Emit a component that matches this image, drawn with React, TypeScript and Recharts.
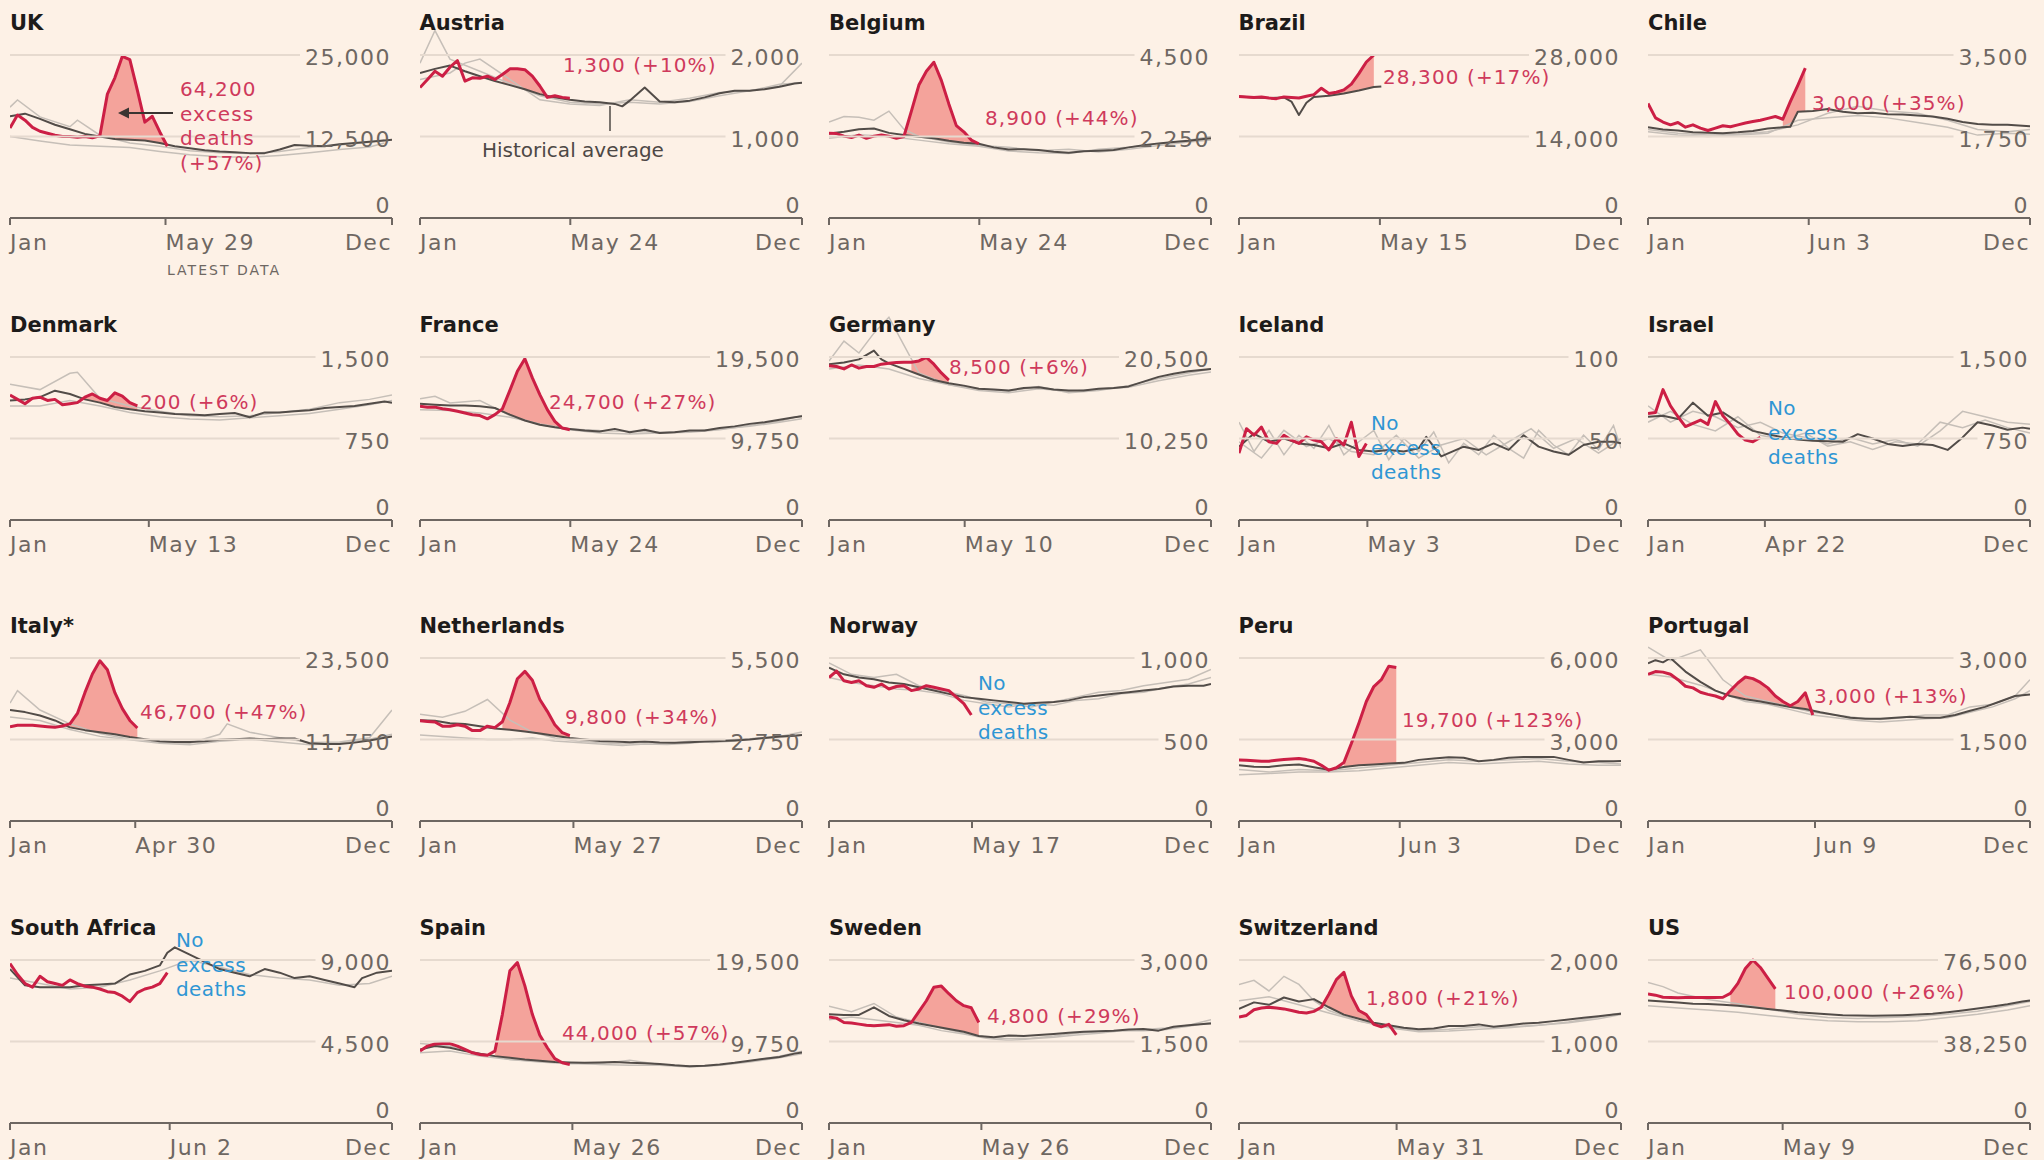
import React from 'react';
import { ComposedChart, Line, Area, XAxis, YAxis } from 'recharts';

// ---------- DATA ----------
const names = ['UK', 'Austria', 'Belgium', 'Brazil', 'Chile', 'Denmark', 'France', 'Germany', 'Iceland', 'Israel',
  'Italy*', 'Netherlands', 'Norway', 'Peru', 'Portugal', 'South Africa', 'Spain', 'Sweden', 'Switzerland', 'US'];
const topTicks = [25000, 2000, 4500, 28000, 3500, 1500, 19500, 20500, 100, 1500, 23500, 5500, 1000, 6000, 3000, 9000, 19500, 3000, 2000, 76500];
const midTicks = [12500, 1000, 2250, 14000, 1750, 750, 9750, 10250, 50, 750, 11750, 2750, 500, 3000, 1500, 4500, 9750, 1500, 1000, 38250];
const latestLabels = ['May 29', 'May 24', 'May 24', 'May 15', 'Jun 3', 'May 13', 'May 24', 'May 10', 'May 3', 'Apr 22',
  'Apr 30', 'May 27', 'May 17', 'Jun 3', 'Jun 9', 'Jun 2', 'May 26', 'May 26', 'May 31', 'May 9'];
const latestDays = [150, 145, 145, 136, 155, 134, 145, 131, 124, 113, 121, 148, 138, 155, 161, 154, 147, 147, 152, 130];
// first week of the 2020 excess period (0 = no excess deaths)
const excessFrom = [13, 12, 11, 14, 19, 11, 11, 12, 0, 0, 9, 12, 0, 15, 11, 0, 11, 12, 12, 12];
const noteTexts = [
  ['64,200', 'excess', 'deaths', '(+57%)'], ['1,300 (+10%)'], ['8,900 (+44%)'], ['28,300 (+17%)'], ['3,000 (+35%)'],
  ['200 (+6%)'], ['24,700 (+27%)'], ['8,500 (+6%)'], ['No', 'excess', 'deaths'], ['No', 'excess', 'deaths'],
  ['46,700 (+47%)'], ['9,800 (+34%)'], ['No', 'excess', 'deaths'], ['19,700 (+123%)'], ['3,000 (+13%)'],
  ['No', 'excess', 'deaths'], ['44,000 (+57%)'], ['4,800 (+29%)'], ['1,800 (+21%)'], ['100,000 (+26%)'],
];

// 2020 weekly deaths (week 1 onwards)
const ukRed = [13800, 15800, 15000, 13900, 13300, 13000, 12700, 12500, 12500, 12400, 12500, 12300, 12600, 19000, 21500, 24800, 24300, 19600, 14700, 15600, 13200, 11000];
const atRed = [1600, 1700, 1800, 1740, 1850, 1930, 1680, 1720, 1714, 1740, 1700, 1760, 1830, 1830, 1820, 1740, 1620, 1480, 1500, 1480, 1470];
const beRed = [2340, 2330, 2260, 2220, 2290, 2200, 2260, 2290, 2260, 2200, 2250, 2950, 3670, 4050, 4300, 3800, 3150, 2550, 2380, 2150, 2050];
const brRed = [20850, 20800, 20700, 20800, 20600, 20500, 20800, 20700, 20600, 20900, 21200, 22300, 21400, 21600, 22000, 23000, 24800, 26800, 28000];
const clRed = [2460, 2150, 2060, 2000, 2050, 1950, 2000, 1930, 1880, 1930, 1980, 1960, 2000, 2040, 2070, 2100, 2140, 2180, 2120, 2500, 2850, 3220];
const dkRed = [1150, 1110, 1070, 1120, 1130, 1100, 1110, 1060, 1070, 1080, 1130, 1160, 1120, 1100, 1170, 1140, 1080, 1050];
const frRed = [13600, 13500, 13500, 13300, 13200, 13000, 12800, 12600, 12500, 12100, 12600, 13300, 15500, 17800, 19300, 17000, 15000, 13200, 11800, 11000, 10800];
const deRed = [19400, 19300, 19000, 19500, 19100, 19300, 19300, 19600, 19700, 19800, 19850, 19850, 20000, 20450, 19600, 18500, 17600];
const isRed = [41, 56, 52, 57, 48, 47, 52, 49, 47, 51, 49, 48, 43, 50, 46, 60, 39, 47];
const ilRed = [980, 990, 1200, 1050, 950, 860, 890, 920, 880, 1090, 960, 880, 790, 735, 720, 760];
const itRed = [13600, 13800, 13800, 13800, 13700, 13600, 13500, 13700, 14000, 15500, 18500, 21200, 23100, 21800, 18500, 16200, 14500, 13400];
const nlRed = [3380, 3360, 3340, 3200, 3200, 3250, 3200, 3050, 3050, 3200, 3150, 3350, 4000, 4800, 5050, 4750, 4100, 3700, 3250, 2980, 2880];
const noRed = [880, 920, 860, 850, 860, 830, 820, 840, 810, 825, 830, 800, 810, 830, 820, 810, 800, 760, 720, 650];
const peRed = [2250, 2240, 2220, 2200, 2200, 2240, 2260, 2280, 2300, 2260, 2200, 2050, 1870, 1960, 2150, 2850, 3600, 4400, 4950, 5200, 5700, 5650];
const ptRed = [2700, 2750, 2740, 2700, 2600, 2480, 2450, 2370, 2330, 2300, 2250, 2400, 2540, 2650, 2620, 2550, 2450, 2300, 2200, 2120, 2200, 2360, 1950];
const zaRed = [8800, 8200, 7700, 7500, 8100, 7800, 7700, 7600, 7900, 7700, 7550, 7500, 7400, 7250, 7200, 7000, 6700, 7200, 7400, 7500, 7700, 8300];
const esRed = [8600, 9200, 9450, 9500, 9500, 9200, 8800, 8400, 8200, 8100, 8600, 13000, 18200, 19200, 16400, 13000, 10500, 9000, 7700, 7200, 7000];
const seRed = [1950, 1930, 1850, 1840, 1820, 1800, 1790, 1800, 1810, 1780, 1790, 1850, 2050, 2250, 2500, 2520, 2380, 2250, 2160, 2120, 1850];
const chRed = [1300, 1320, 1390, 1410, 1420, 1410, 1400, 1380, 1360, 1350, 1370, 1420, 1580, 1760, 1850, 1560, 1380, 1330, 1210, 1180, 1210, 1080];
const usRed = [60500, 60000, 59000, 58900, 58800, 58900, 58900, 58900, 58900, 58900, 59000, 60800, 65500, 72500, 76500, 73000, 68000, 63000];

// historical average [week, deaths]
const ukAvg = [[1, 15600], [3, 16000], [5, 15200], [7, 14300], [9, 13600], [11, 12900], [13, 12500], [15, 12100], [17, 12000], [19, 11900], [21, 11500], [23, 11000], [25, 10700], [27, 10400], [29, 10200], [31, 10100], [33, 9950], [35, 9950], [37, 10500], [39, 11200], [41, 11100], [43, 11000], [45, 11300], [47, 11500], [49, 11700], [51, 11900], [52, 12000]];
const atAvg = [[1, 1780], [3, 1830], [5, 1870], [7, 1800], [9, 1740], [11, 1680], [13, 1630], [15, 1580], [17, 1520], [19, 1480], [21, 1450], [23, 1430], [25, 1420], [27, 1400], [28, 1370], [29, 1440], [31, 1600], [33, 1430], [35, 1420], [37, 1440], [39, 1480], [41, 1530], [43, 1560], [45, 1560], [47, 1580], [49, 1610], [51, 1650], [52, 1660]];
const beAvg = [[1, 2330], [3, 2380], [5, 2450], [7, 2470], [9, 2350], [11, 2290], [13, 2240], [15, 2200], [17, 2130], [19, 2080], [21, 2050], [23, 1950], [25, 1890], [27, 1900], [29, 1880], [31, 1830], [33, 1800], [35, 1840], [37, 1860], [39, 1880], [41, 1950], [43, 2010], [45, 2060], [47, 2100], [49, 2130], [51, 2180], [52, 2200]];
const brAvg = [[1, 20850], [3, 20700], [5, 20600], [7, 20700], [8, 20000], [9, 17700], [10, 19800], [11, 20800], [13, 21000], [15, 21400], [17, 21900], [19, 22500], [20, 22600]];
const clAvg = [[1, 1950], [3, 1900], [5, 1880], [7, 1840], [9, 1830], [11, 1820], [13, 1840], [15, 1870], [17, 1920], [19, 1950], [20, 1960], [21, 2280], [23, 2300], [25, 2340], [27, 2280], [29, 2250], [31, 2260], [33, 2230], [35, 2220], [37, 2200], [39, 2180], [41, 2130], [43, 2060], [45, 2020], [47, 2000], [49, 2000], [51, 1980], [52, 1970]];
const dkAvg = [[1, 1100], [3, 1110], [5, 1130], [7, 1190], [9, 1160], [11, 1110], [13, 1080], [15, 1040], [17, 1020], [19, 1000], [21, 990], [23, 975], [25, 970], [27, 965], [29, 975], [31, 985], [33, 945], [35, 990], [37, 990], [39, 1000], [41, 1010], [43, 1030], [45, 1040], [47, 1050], [49, 1070], [51, 1090], [52, 1080]];
const frAvg = [[1, 13900], [3, 13800], [5, 13700], [7, 13700], [9, 13600], [11, 13400], [13, 12600], [15, 11900], [17, 11400], [19, 11100], [21, 10900], [23, 10700], [25, 10600], [27, 10900], [29, 10500], [31, 10800], [33, 10400], [35, 10500], [37, 10700], [39, 10700], [41, 11000], [43, 11200], [45, 11500], [47, 11700], [49, 12000], [51, 12300], [52, 12400]];
const deAvg = [[1, 19600], [3, 19800], [5, 20200], [7, 21300], [8, 20200], [9, 19700], [11, 19000], [13, 18300], [15, 17600], [17, 17200], [19, 16900], [21, 16500], [23, 16400], [25, 16300], [27, 16600], [29, 16700], [31, 16400], [33, 16300], [35, 16300], [37, 16500], [39, 16600], [41, 16800], [43, 17400], [45, 18000], [47, 18400], [49, 18700], [51, 18900], [52, 19000]];
const isAvg = [[1, 45], [3, 53], [5, 48], [7, 50], [9, 47], [11, 46], [13, 44], [15, 47], [17, 43], [19, 42], [21, 43], [23, 42], [25, 44], [26, 51], [27, 45], [28, 39], [29, 41], [31, 45], [33, 43], [35, 47], [37, 43], [39, 52], [41, 45], [43, 42], [45, 40], [47, 46], [49, 48], [51, 48], [52, 47]];
const ilAvg = [[1, 950], [3, 960], [5, 930], [7, 1080], [9, 960], [11, 990], [13, 900], [15, 820], [17, 790], [19, 760], [21, 740], [23, 730], [25, 725], [27, 720], [29, 790], [31, 750], [33, 700], [35, 680], [37, 700], [39, 690], [41, 645], [43, 760], [45, 900], [47, 870], [49, 830], [51, 850], [52, 840]];
const itAvg = [[1, 16000], [3, 15700], [5, 15200], [7, 14500], [9, 13500], [11, 13100], [13, 12800], [15, 12500], [17, 12100], [19, 11800], [21, 11500], [23, 11400], [25, 11400], [27, 11500], [29, 11700], [31, 11800], [33, 11900], [35, 11800], [37, 11900], [39, 11900], [41, 11200], [43, 11100], [45, 11100], [47, 11300], [49, 11600], [51, 12000], [52, 12200]];
const nlAvg = [[1, 3400], [3, 3380], [5, 3300], [7, 3270], [9, 3200], [11, 3120], [13, 3080], [15, 3020], [17, 2950], [19, 2880], [21, 2800], [23, 2750], [25, 2700], [27, 2680], [29, 2660], [31, 2680], [33, 2650], [35, 2640], [37, 2660], [39, 2680], [41, 2700], [43, 2720], [45, 2750], [47, 2800], [49, 2850], [51, 2880], [52, 2900]];
const noAvg = [[1, 940], [3, 900], [5, 880], [7, 870], [9, 850], [11, 840], [13, 820], [15, 800], [17, 780], [19, 760], [21, 750], [23, 740], [25, 730], [27, 720], [29, 725], [31, 730], [33, 740], [35, 760], [37, 770], [39, 780], [41, 790], [43, 800], [45, 810], [47, 825], [49, 830], [51, 830], [52, 840]];
const peAvg = [[1, 2050], [3, 2000], [5, 1990], [7, 2050], [9, 2080], [11, 1980], [13, 1890], [15, 1990], [17, 2050], [19, 2080], [21, 2120], [23, 2140], [25, 2250], [27, 2300], [29, 2350], [31, 2330], [33, 2200], [35, 2250], [37, 2330], [39, 2360], [41, 2360], [43, 2360], [45, 2250], [47, 2150], [49, 2200], [51, 2200], [52, 2210]];
const ptAvg = [[1, 2900], [2, 2960], [3, 2920], [4, 3000], [6, 2750], [8, 2560], [10, 2400], [12, 2300], [14, 2240], [16, 2200], [18, 2150], [20, 2100], [22, 2060], [24, 2000], [26, 1950], [28, 1900], [30, 1880], [32, 1880], [34, 1900], [36, 1920], [38, 1900], [40, 1900], [42, 1950], [44, 2030], [46, 2100], [48, 2200], [50, 2300], [52, 2330]];
const zaAvg = [[1, 8500], [3, 7600], [5, 7500], [7, 7500], [9, 7500], [11, 7600], [13, 7650], [15, 7700], [17, 8200], [19, 8400], [21, 8700], [22, 9400], [23, 9700], [25, 9300], [27, 8900], [29, 8500], [31, 8300], [33, 8100], [35, 8500], [37, 8300], [39, 8000], [41, 8100], [43, 7900], [45, 7700], [47, 7500], [48, 8000], [50, 8300], [52, 8400]];
const esAvg = [[1, 8800], [3, 9200], [5, 9000], [7, 8600], [9, 8300], [11, 8000], [13, 7800], [15, 7600], [17, 7450], [19, 7300], [21, 7250], [23, 7200], [25, 7250], [27, 7300], [29, 7200], [31, 7150], [33, 7050], [35, 6900], [37, 6800], [39, 6850], [41, 7000], [43, 7200], [45, 7450], [47, 7700], [49, 7900], [51, 8300], [52, 8450]];
const seAvg = [[1, 2000], [3, 1990], [5, 1990], [7, 2130], [9, 1970], [11, 1890], [13, 1830], [15, 1780], [17, 1730], [19, 1680], [21, 1600], [23, 1580], [25, 1610], [27, 1600], [29, 1620], [31, 1640], [33, 1660], [35, 1680], [37, 1690], [39, 1700], [41, 1720], [43, 1730], [45, 1700], [47, 1770], [49, 1800], [51, 1820], [52, 1830]];
const chAvg = [[1, 1400], [3, 1480], [5, 1450], [7, 1540], [9, 1490], [11, 1520], [13, 1420], [15, 1330], [17, 1280], [19, 1230], [21, 1200], [23, 1170], [25, 1150], [27, 1160], [29, 1190], [31, 1190], [33, 1210], [35, 1180], [37, 1200], [39, 1220], [41, 1230], [43, 1250], [45, 1270], [47, 1290], [49, 1310], [51, 1330], [52, 1340]];
const usAvg = [[1, 57500], [3, 57000], [5, 56500], [7, 56000], [9, 55800], [11, 55500], [13, 55000], [15, 54300], [17, 53500], [19, 52800], [21, 52000], [23, 51500], [25, 51000], [27, 50600], [29, 50400], [31, 50300], [33, 50400], [35, 50600], [37, 50900], [39, 51300], [41, 52000], [43, 52800], [45, 53700], [47, 54700], [49, 55700], [51, 57000], [52, 57500]];

// individual past years [week, deaths]
const ukPastA = [[1, 17000], [2, 18100], [5, 15500], [9, 14000], [10, 15000], [13, 12700], [17, 11500], [21, 11000], [25, 10300], [29, 10000], [33, 9900], [37, 10200], [41, 10800], [45, 11200], [49, 11600], [51, 12000]];
const ukPastB = [[1, 12500], [5, 11800], [9, 11200], [13, 11000], [17, 10800], [21, 10200], [25, 9700], [29, 9400], [33, 9300], [37, 9600], [41, 10000], [45, 10500], [49, 10900], [51, 11500]];
const atPastA = [[1, 1900], [3, 2300], [5, 1950], [9, 1800], [13, 1650], [17, 1500], [21, 1420], [25, 1400], [29, 1420], [33, 1400], [37, 1430], [41, 1500], [45, 1560], [49, 1620], [52, 1900]];
const atPastB = [[1, 1700], [5, 1780], [7, 1900], [9, 1950], [13, 1700], [17, 1450], [21, 1400], [25, 1380], [29, 1450], [33, 1420], [37, 1470], [41, 1540], [45, 1560], [49, 1640], [52, 1660]];
const bePastA = [[1, 2650], [3, 2800], [5, 2780], [7, 2700], [9, 2950], [11, 2450], [13, 2250], [17, 2100], [21, 2000], [25, 1950], [29, 1860], [33, 1900], [37, 1820], [41, 1900], [45, 2000], [49, 2100], [52, 2150]];
const bePastB = [[1, 2200], [5, 2300], [9, 2250], [13, 2150], [17, 2050], [21, 1980], [25, 1850], [29, 1800], [33, 1780], [37, 1900], [41, 1950], [45, 2050], [49, 2150], [52, 2250]];
const clPastA = [[1, 1900], [5, 1820], [9, 1780], [13, 1800], [17, 1850], [21, 2000], [25, 2250], [29, 2400], [33, 2300], [37, 2250], [41, 2100], [45, 1900], [49, 1850], [52, 1900]];
const clPastB = [[1, 1850], [5, 1780], [9, 1750], [13, 1780], [17, 1820], [21, 2100], [25, 2150], [29, 2200], [33, 2150], [37, 2050], [41, 1950], [45, 1780], [49, 1820], [52, 1800]];
const dkPastA = [[1, 1250], [5, 1200], [9, 1350], [10, 1360], [13, 1120], [17, 1050], [21, 1000], [25, 960], [29, 950], [33, 960], [37, 990], [41, 1020], [45, 1080], [49, 1110], [52, 1150]];
const dkPastB = [[1, 1050], [5, 1050], [9, 1100], [13, 1050], [17, 990], [21, 950], [25, 930], [29, 920], [33, 940], [37, 960], [41, 980], [45, 1020], [49, 1060], [52, 1100]];
const frPastA = [[1, 14500], [3, 14800], [5, 14000], [9, 14300], [13, 12500], [17, 11400], [21, 10800], [25, 10400], [29, 10300], [33, 10400], [37, 10500], [41, 10800], [45, 11300], [49, 11800], [52, 12500]];
const frPastB = [[1, 13200], [5, 13100], [9, 12800], [13, 12300], [17, 11500], [21, 10900], [25, 10700], [29, 10600], [33, 10500], [37, 10600], [41, 10900], [45, 11200], [49, 11700], [52, 12100]];
const dePastA = [[1, 20000], [3, 22500], [5, 21000], [7, 23500], [9, 25500], [11, 22000], [13, 18500], [17, 17000], [21, 16500], [25, 16200], [29, 16800], [33, 16000], [37, 16300], [41, 16900], [45, 17800], [49, 18500], [52, 19000]];
const dePastB = [[1, 19000], [5, 19500], [9, 19000], [13, 17800], [17, 17000], [21, 16300], [25, 16000], [29, 16500], [33, 16200], [37, 16400], [41, 16700], [45, 17500], [49, 18200], [52, 18600]];
const isPastA = [[1, 60], [3, 42], [5, 55], [7, 40], [9, 52], [11, 44], [13, 58], [15, 40], [17, 48], [19, 55], [21, 37], [23, 50], [25, 42], [27, 54], [29, 35], [31, 47], [33, 40], [35, 52], [37, 44], [39, 38], [41, 55], [43, 46], [45, 40], [47, 52], [49, 43], [51, 58], [52, 44]];
const isPastB = [[1, 48], [4, 38], [7, 55], [10, 45], [13, 50], [16, 42], [19, 40], [22, 52], [25, 38], [28, 46], [31, 50], [34, 40], [37, 48], [40, 56], [43, 44], [46, 50], [49, 41], [52, 50]];
const ilPastA = [[1, 1050], [4, 900], [7, 1000], [10, 950], [13, 850], [16, 900], [19, 800], [22, 760], [25, 700], [28, 760], [31, 700], [34, 740], [37, 680], [40, 820], [43, 1000], [46, 950], [49, 900], [52, 880]];
const ilPastB = [[1, 900], [4, 1000], [7, 880], [10, 820], [13, 950], [16, 780], [19, 740], [22, 800], [25, 680], [28, 720], [31, 650], [34, 720], [37, 700], [40, 900], [43, 850], [46, 920], [49, 850], [52, 800]];
const itPastA = [[1, 17000], [2, 18800], [5, 16000], [9, 14000], [13, 12600], [17, 11800], [21, 11300], [25, 11200], [29, 12500], [30, 14000], [33, 12800], [37, 12000], [41, 11300], [45, 11400], [49, 12000], [52, 16000]];
const itPastB = [[1, 15000], [5, 14500], [9, 13200], [13, 12200], [17, 11700], [21, 11200], [25, 11000], [29, 11500], [33, 11800], [37, 11400], [41, 11000], [45, 11200], [49, 11800], [52, 12500]];
const nlPastA = [[1, 3600], [4, 3500], [7, 3700], [10, 4100], [13, 3400], [16, 3000], [19, 2800], [22, 2700], [25, 2650], [28, 2600], [31, 2650], [34, 2600], [37, 2700], [40, 2650], [43, 2700], [46, 2800], [49, 2850], [52, 3000]];
const nlPastB = [[1, 2900], [4, 2850], [7, 2800], [10, 2750], [13, 2750], [16, 2800], [19, 2700], [22, 2650], [25, 2600], [28, 2550], [31, 2600], [34, 2580], [37, 2620], [40, 2700], [43, 2750], [46, 2780], [49, 2820], [52, 2900]];
const noPastA = [[1, 970], [4, 900], [7, 880], [10, 900], [13, 830], [16, 800], [19, 770], [22, 730], [25, 720], [28, 700], [31, 730], [34, 760], [37, 790], [40, 800], [43, 830], [46, 850], [49, 870], [52, 930]];
const noPastB = [[1, 880], [4, 850], [7, 830], [10, 810], [13, 800], [16, 780], [19, 740], [22, 720], [25, 700], [28, 720], [31, 710], [34, 740], [37, 750], [40, 780], [43, 790], [46, 820], [49, 840], [52, 880]];
const pePastA = [[1, 1900], [5, 1800], [9, 1900], [13, 1850], [17, 1950], [21, 2050], [25, 2150], [29, 2250], [33, 2200], [37, 2250], [41, 2300], [45, 2200], [49, 2150], [52, 2100]];
const pePastB = [[1, 1700], [5, 1750], [9, 1800], [13, 1800], [17, 1850], [21, 1950], [25, 2050], [29, 2150], [33, 2100], [37, 2150], [41, 2200], [45, 2100], [49, 2050], [52, 2050]];
const ptPastA = [[1, 3200], [4, 2950], [8, 3150], [11, 2600], [14, 2300], [17, 2200], [20, 2100], [23, 2000], [26, 1950], [29, 1900], [32, 1870], [35, 1900], [38, 1950], [41, 1950], [44, 2100], [47, 2150], [50, 2300], [52, 2600]];
const ptPastB = [[1, 2700], [4, 2650], [8, 2500], [11, 2350], [14, 2200], [17, 2150], [20, 2050], [23, 1950], [26, 1900], [29, 1850], [32, 1820], [35, 1850], [38, 1880], [41, 1900], [44, 2000], [47, 2100], [50, 2250], [52, 2400]];
const zaPastA = [[1, 8000], [5, 7700], [9, 7400], [13, 7500], [17, 7900], [21, 8400], [25, 9000], [29, 8600], [33, 8200], [37, 8000], [41, 7900], [45, 7600], [49, 7700], [52, 8100]];
const esPastA = [[1, 9500], [5, 9200], [9, 8300], [13, 7600], [17, 7300], [21, 7100], [25, 7100], [29, 7500], [33, 7000], [37, 6800], [41, 6900], [45, 7400], [49, 8000], [52, 8600]];
const esPastB = [[1, 8400], [5, 8600], [9, 8000], [13, 7600], [17, 7400], [21, 7200], [25, 7000], [29, 6900], [33, 6900], [37, 6700], [41, 6900], [45, 7300], [49, 7800], [52, 8300]];
const sePastA = [[1, 2150], [4, 2050], [7, 2200], [10, 1950], [13, 1850], [16, 1750], [19, 1650], [22, 1580], [25, 1550], [28, 1560], [31, 1600], [34, 1650], [37, 1680], [40, 1700], [43, 1720], [46, 1750], [49, 1800], [52, 1900]];
const sePastB = [[1, 1900], [4, 1950], [7, 1900], [10, 1850], [13, 1800], [16, 1700], [19, 1640], [22, 1560], [25, 1520], [28, 1550], [31, 1580], [34, 1620], [37, 1650], [40, 1700], [43, 1700], [46, 1720], [49, 1780], [52, 1850]];
const chPastA = [[1, 1700], [3, 1750], [5, 1620], [7, 1800], [9, 1700], [11, 1500], [13, 1380], [17, 1250], [21, 1180], [25, 1130], [29, 1150], [33, 1180], [37, 1180], [41, 1200], [45, 1240], [49, 1300], [52, 1350]];
const chPastB = [[1, 1500], [5, 1550], [9, 1450], [13, 1350], [17, 1250], [21, 1170], [25, 1120], [29, 1130], [33, 1150], [37, 1170], [41, 1200], [45, 1230], [49, 1280], [52, 1330]];
const usPastA = [[1, 66000], [3, 64000], [5, 61000], [9, 58000], [13, 56000], [17, 53500], [21, 51000], [25, 49500], [29, 49000], [33, 49500], [37, 50000], [41, 51000], [45, 52500], [49, 55000], [52, 57000]];
const usPastB = [[1, 55000], [5, 54000], [9, 53000], [13, 52000], [17, 50500], [21, 49000], [25, 48000], [29, 47500], [33, 47500], [37, 48000], [41, 49500], [45, 51000], [49, 53000], [52, 55000]];

const redSeries = [ukRed, atRed, beRed, brRed, clRed, dkRed, frRed, deRed, isRed, ilRed, itRed, nlRed, noRed, peRed, ptRed, zaRed, esRed, seRed, chRed, usRed];
const avgSeries = [ukAvg, atAvg, beAvg, brAvg, clAvg, dkAvg, frAvg, deAvg, isAvg, ilAvg, itAvg, nlAvg, noAvg, peAvg, ptAvg, zaAvg, esAvg, seAvg, chAvg, usAvg];
const pastSeries = [[ukPastA, ukPastB], [atPastA, atPastB], [bePastA, bePastB], [], [clPastA, clPastB], [dkPastA, dkPastB], [frPastA, frPastB], [dePastA, dePastB], [isPastA, isPastB], [ilPastA, ilPastB],
  [itPastA, itPastB], [nlPastA, nlPastB], [noPastA, noPastB], [pePastA, pePastB], [ptPastA, ptPastB], [zaPastA], [esPastA, esPastB], [sePastA, sePastB], [chPastA, chPastB], [usPastA, usPastB]];

// ---------- LAYOUT / STYLE ----------
const FONT = 'DejaVu Sans, Verdana, sans-serif';
const BG = '#fdf1e6';
const GRID = '#e6dacf';
const AXIS = '#6e6762';
const TITLE = '#1d1b1a';
const RED = '#cc1f45';
const SALMON = '#f4a39b';
const RED_TEXT = '#cf3a5c';
const BLUE = '#2f96d4';
const AVG = '#524c48';
const PAST = '#c6bfb8';
const NOTE_GREY = '#4d4845';

const COL_STEP = 409.5;
const ROW_STEP = 301.5;
const W = 404;
const H = 300;
const PLOT_L = 10;
const PLOT_R = 392;
const PLOT_T = 10;
const PLOT_B = 218;
const TOPLINE = 55;
const YAXIS_W = 1;

// note anchor (page px): [x, first baseline]
const NOTE_POS = [
  [180, 96], [563, 72], [985, 125], [1383, 84], [1812, 110],
  [140, 409], [549, 409], [949, 374], [1371, 430], [1768, 415],
  [140, 719], [565, 724], [978, 690], [1402, 727], [1814, 703],
  [176, 947], [562, 1040], [987, 1023], [1366, 1005], [1784, 999],
];

const fmt = (v: number) => v.toLocaleString('en-US');
const labelWidth = (s: string) => {
  let w = 0;
  for (const ch of s) w += ch === ',' ? 8.5 : 15.5;
  return w;
};

function Panel({ i }: { i: number }) {
  const c = i % 5;
  const r = Math.floor(i / 5);
  const top = topTicks[i];
  const mid = midTicks[i];
  const dmax = (top * (PLOT_B - PLOT_T)) / (PLOT_B - TOPLINE);
  const lw = 1 + ((latestDays[i] - 1) / 366) * 51;
  const red = redSeries[i].map((v, k) => ({ w: k + 1, v }));
  const avg = avgSeries[i].map(([w, v]) => ({ w, v }));
  const past = pastSeries[i].map((s) => s.map(([w, v]) => ({ w, v })));
  const ex = excessFrom[i];
  const exData = ex ? red.filter((d) => d.w >= ex) : [];
  const latest = latestLabels[i];

  const yTick = (p: any) => {
    const v = p.payload.value;
    const s = fmt(v);
    const y = p.y;
    return (
      <g>
        {v > 0 ? (
          <line x1={PLOT_L} x2={PLOT_R - labelWidth(s) - 6} y1={y} y2={y} stroke={GRID} strokeWidth={2} />
        ) : null}
        <text x={PLOT_R - 1} y={v > 0 ? y + 10 : y - 5} textAnchor="end" fontFamily={FONT} fontSize={22}
          letterSpacing={1.5} fill={AXIS}>{s}</text>
      </g>
    );
  };
  const xTick = (p: any) => {
    const v = p.payload.value;
    const label = v === 1 ? 'Jan' : v === 52 ? 'Dec' : latest;
    return (
      <text x={p.x} y={PLOT_B + 32} textAnchor={v === 52 ? 'end' : 'start'} fontFamily={FONT} fontSize={22}
        letterSpacing={1.5} fill={AXIS}>{label}</text>
    );
  };

  return (
    <div style={{ position: 'absolute', left: c * COL_STEP, top: r * ROW_STEP, width: W, height: H }}>
      <ComposedChart width={W} height={H} data={red}
        margin={{ top: PLOT_T, right: W - PLOT_R - YAXIS_W, bottom: 0, left: PLOT_L }}>
        {ex ? (
          <Area data={exData} dataKey="v" type="linear" stroke="none" fill={SALMON} fillOpacity={1}
            dot={false} activeDot={false} isAnimationActive={false} />
        ) : null}
        {ex ? (
          <Area data={avg} dataKey="v" type="linear" stroke="none" fill={BG} fillOpacity={1}
            dot={false} activeDot={false} isAnimationActive={false} />
        ) : null}
        <YAxis orientation="right" width={YAXIS_W} type="number" domain={[0, dmax]} allowDataOverflow
          ticks={[0, mid, top]} interval={0} axisLine={false} tickLine={false} tick={yTick} />
        <XAxis dataKey="w" type="number" domain={[1, 52]} allowDataOverflow ticks={[1, lw, 52]} interval={0}
          height={H - PLOT_B} axisLine={{ stroke: AXIS, strokeWidth: 2 }} tickLine={{ stroke: AXIS, strokeWidth: 2 }}
          tickSize={7} tick={xTick} />
        {past.map((p, k) => (
          <Line key={k} data={p} dataKey="v" type="linear" stroke={PAST} strokeWidth={1.5} dot={false}
            activeDot={false} isAnimationActive={false} />
        ))}
        <Line data={avg} dataKey="v" type="linear" stroke={AVG} strokeWidth={2} dot={false} activeDot={false}
          strokeLinejoin="round" isAnimationActive={false} />
        <Line data={red} dataKey="v" type="linear" stroke={RED} strokeWidth={3} dot={false} activeDot={false}
          strokeLinejoin="round" isAnimationActive={false} />
      </ComposedChart>
    </div>
  );
}

function Overlay() {
  return (
    <svg width={2044} height={1160} style={{ position: 'absolute', left: 0, top: 0, pointerEvents: 'none' }}>
      {names.map((n, i) => (
        <text key={n} x={10 + (i % 5) * COL_STEP} y={30 + Math.floor(i / 5) * ROW_STEP} fontFamily={FONT}
          fontWeight="bold" fontSize={21} fill={TITLE}>{n}</text>
      ))}
      <text x={167} y={275} fontFamily={FONT} fontSize={14} letterSpacing={2} fill={AXIS}>LATEST DATA</text>
      {noteTexts.map((lines, i) => {
        const blue = lines[0] === 'No';
        const [x, y] = NOTE_POS[i];
        return (
          <text key={i} fontFamily={FONT} fontSize={20} letterSpacing={blue ? 0.4 : 1.1}
            fill={blue ? BLUE : RED_TEXT}>
            {lines.map((l, k) => (
              <tspan key={k} x={x} y={y + k * 24.5}>{l}</tspan>
            ))}
          </text>
        );
      })}
      {/* UK arrow */}
      <line x1={173} y1={113} x2={128} y2={113} stroke="#3a3532" strokeWidth={2} />
      <polygon points="118,113 129,107.5 129,118.5" fill="#3a3532" />
      {/* Austria historical average callout */}
      <line x1={610} y1={106} x2={610} y2={131} stroke={NOTE_GREY} strokeWidth={1.5} />
      <text x={482} y={157} fontFamily={FONT} fontSize={20} fill={NOTE_GREY}>Historical average</text>
    </svg>
  );
}

export default function App() {
  return (
    <div style={{ position: 'absolute', left: 0, top: 0, width: 2044, height: 1160, background: BG, overflow: 'hidden', fontFamily: FONT }}>
      {names.map((_, i) => (
        <Panel key={i} i={i} />
      ))}
      <Overlay />
    </div>
  );
}
